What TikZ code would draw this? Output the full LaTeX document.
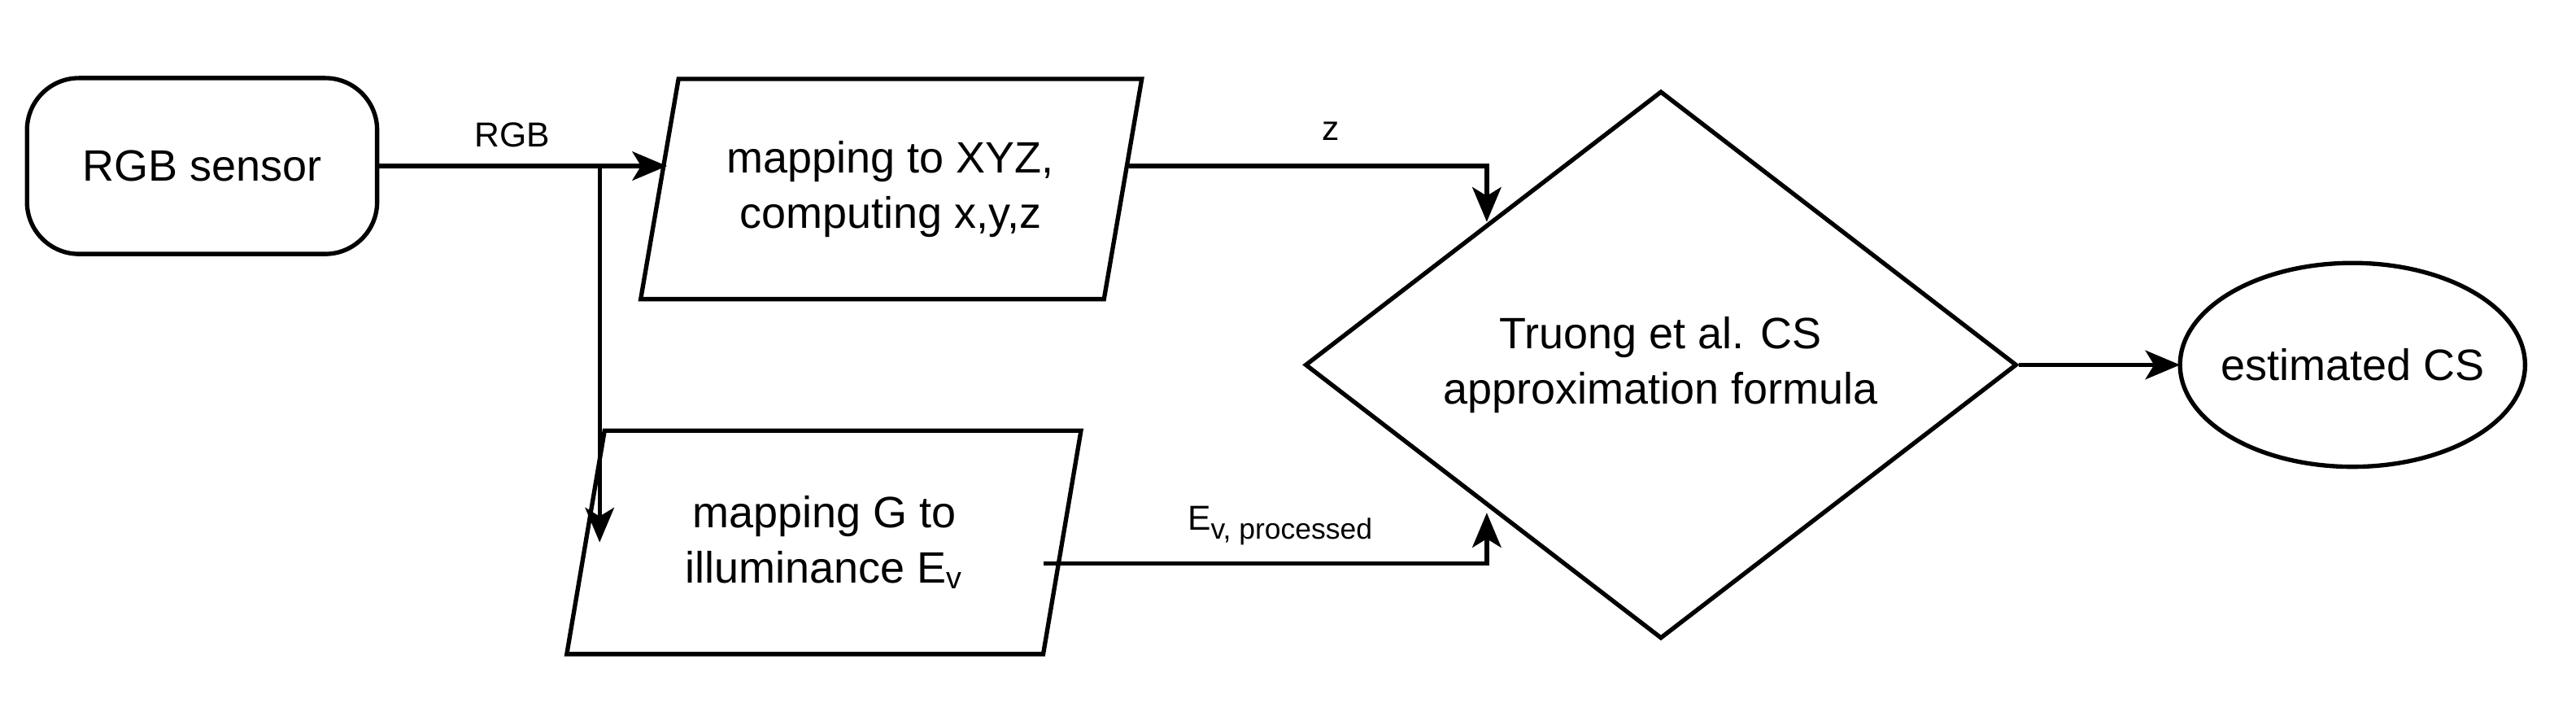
\documentclass[tikz,border=0pt]{standalone}
\usepackage{fontspec}
\setmainfont{Liberation Sans}
\usetikzlibrary{shapes.geometric,arrows.meta}
\begin{document}
\begin{tikzpicture}[x=0.01cm,y=-0.01cm,line width=0.75pt,
  txt/.style={font=\fontsize{7.6pt}{9.5pt}\selectfont,align=center},
  lbl/.style={font=\fontsize{6pt}{7pt}\selectfont},
  arr/.style={-{Stealth[length=6pt,width=5pt,inset=1.5pt]}}]
\useasboundingbox (0,0) rectangle (1568,441);
\node[draw,rounded corners=9pt,minimum width=2.13cm,minimum height=1.07cm,txt] (sensor) at (123,101) {RGB sensor};
\draw (413,48) -- (695,48) -- (672,182) -- (390,182) -- cycle;
\node[txt] (p1) at (542,115) {mapping to XYZ,\\computing x,y,z};
\draw (368,262) -- (658,262) -- (635,398) -- (345,398) -- cycle;
\node[txt] (p2) at (502,330) {mapping G to\\illuminance E\textsubscript{v}};
\node[draw,diamond,shape aspect=1.3,inner sep=0pt,minimum width=4.33cm,minimum height=3.33cm,txt] (d) at (1011,222) {Truong et al. CS\\approximation formula};
\draw (1432,222) ellipse (105 and 62);
\node[txt] (e) at (1432,222) {estimated CS};
\coordinate (el) at (1327,222);
\coordinate (p1l) at (406,101);
\coordinate (p1r) at (687,101);
\coordinate (br) at (365,101);
\coordinate (p2l) at (360,330);
\coordinate (p2r) at (635,343);
\coordinate (dz) at (905,135);
\coordinate (de) at (905,312);
\draw[arr] (sensor.east) -- (p1l);
\node[lbl] (lrgb) at (312,82) {RGB};
\draw[arr] (br) -- (br |- p2l);
\draw[arr] (p1r) -| (dz);
\node[lbl] (lz) at (810,80) {z};
\draw[arr] (p2r) -| (de);
\node[lbl] (le) at (780,320) {E\textsubscript{v, processed}};
\draw[arr] (d.east) -- (el);
\end{tikzpicture}
\end{document}
